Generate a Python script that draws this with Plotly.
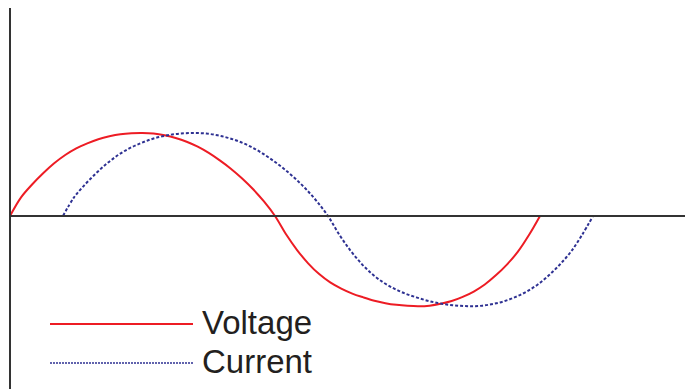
import plotly.graph_objects as go

# Phase angle in degrees, sampled every 7.5 degrees over one cycle
angle_deg = [i * 7.5 for i in range(49)]
# Current lags voltage by about 36 degrees
current_angle_deg = [a + 36 for a in angle_deg]

# Values (the drawn wave is fuller than a pure sine,
# and its negative lobe is slightly deeper than the positive one)
voltage = [0.0, 0.225, 0.38, 0.515, 0.635, 0.735, 0.815, 0.875, 0.925, 0.96, 0.985, 0.997,
           1.0, 0.993, 0.972, 0.94, 0.895, 0.835, 0.76, 0.67, 0.57, 0.455, 0.325, 0.175,
           0.0, -0.22, -0.41, -0.57, -0.70, -0.80, -0.875, -0.935, -0.98, -1.02, -1.05, -1.07,
           -1.082, -1.087, -1.08, -1.058, -1.025, -0.975, -0.91, -0.825, -0.715, -0.585, -0.43, -0.23,
           0.0]
current = [0.0, 0.225, 0.38, 0.515, 0.635, 0.735, 0.815, 0.875, 0.925, 0.96, 0.985, 0.997,
           1.0, 0.993, 0.972, 0.94, 0.895, 0.835, 0.76, 0.67, 0.57, 0.455, 0.325, 0.175,
           0.0, -0.22, -0.41, -0.57, -0.70, -0.80, -0.875, -0.935, -0.98, -1.02, -1.05, -1.07,
           -1.082, -1.087, -1.08, -1.058, -1.025, -0.975, -0.91, -0.825, -0.715, -0.585, -0.43, -0.23,
           0.0]

series_names = ["Voltage", "Current"]
RED = "#ED1C24"
BLUE = "#2E3192"
AXIS = "#333333"

W, H = 685, 389

fig = go.Figure()
fig.add_trace(go.Scatter(x=angle_deg, y=voltage, mode="lines",
                         line=dict(color=RED, width=2, shape="spline", smoothing=1.0),
                         name=series_names[0], showlegend=False, hoverinfo="skip"))
fig.add_trace(go.Scatter(x=current_angle_deg, y=current, mode="lines",
                         line=dict(color=BLUE, width=2, dash="3px,2px", shape="spline", smoothing=1.0),
                         name=series_names[1], showlegend=False, hoverinfo="skip"))

# axis geometry
x0_px = 10.0
px_per_deg = 530.0 / 360.0
zero_py = 216.0
px_per_unit = 83.0
x_range = [-x0_px / px_per_deg, (W - x0_px) / px_per_deg]
y_range = [-(H - zero_py) / px_per_unit, zero_py / px_per_unit]

shapes = [
    # vertical axis
    dict(type="line", xref="x", yref="paper", x0=0, x1=0, y0=0, y1=1 - 8 / H,
         line=dict(color=AXIS, width=2)),
    # horizontal axis
    dict(type="line", xref="x", yref="y", x0=0, x1=x_range[1], y0=0, y1=0,
         line=dict(color=AXIS, width=2)),
    # legend samples
    dict(type="line", xref="paper", yref="paper", x0=50 / W, x1=193 / W,
         y0=1 - 324 / H, y1=1 - 324 / H, line=dict(color=RED, width=2)),
    dict(type="line", xref="paper", yref="paper", x0=50 / W, x1=193 / W,
         y0=1 - 363 / H, y1=1 - 363 / H, line=dict(color=BLUE, width=1.5, dash="2px,1px")),
]

annotations = [
    dict(xref="paper", yref="paper", x=200 / W, y=1 - 322 / H, xanchor="left", yanchor="middle",
         text=series_names[0], showarrow=False,
         font=dict(family="Liberation Sans, Arial, sans-serif", size=33, color="#231F20")),
    dict(xref="paper", yref="paper", x=200 / W, y=1 - 361 / H, xanchor="left", yanchor="middle",
         text=series_names[1], showarrow=False,
         font=dict(family="Liberation Sans, Arial, sans-serif", size=33, color="#231F20")),
]

fig.update_layout(
    width=W, height=H,
    margin=dict(l=0, r=0, t=0, b=0),
    paper_bgcolor="white", plot_bgcolor="white",
    xaxis=dict(range=x_range, visible=False, fixedrange=True),
    yaxis=dict(range=y_range, visible=False, fixedrange=True),
    shapes=shapes, annotations=annotations,
    showlegend=False,
)

fig.write_html("out.html", config={"displayModeBar": False})
